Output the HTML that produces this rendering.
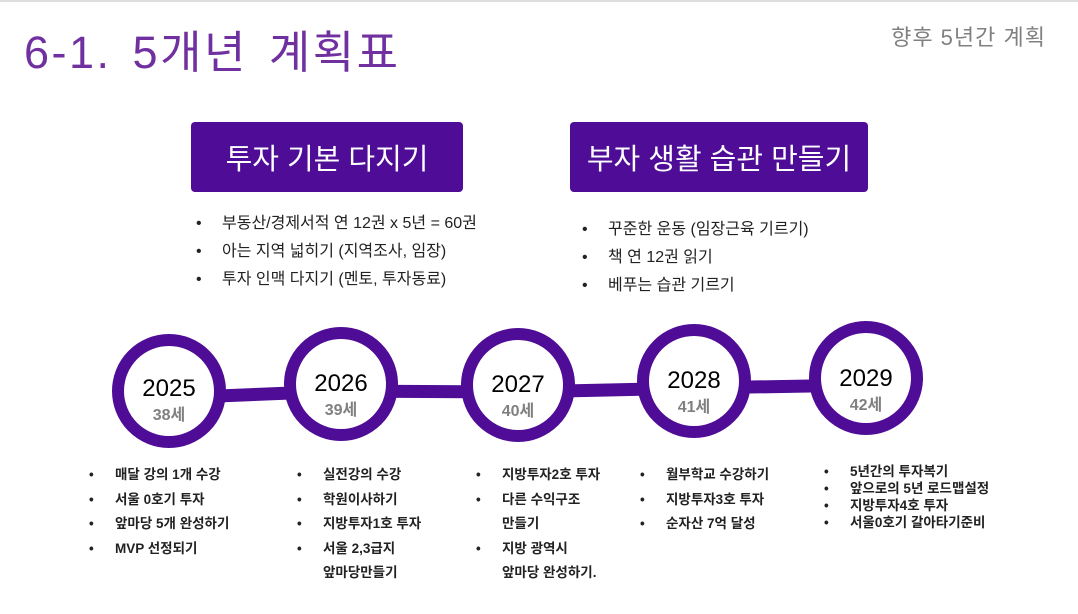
<!DOCTYPE html>
<html><head><meta charset="utf-8"><style>
body{margin:0;width:1078px;height:614px;background:#fff;position:relative;overflow:hidden;font-family:"Liberation Sans","Noto Sans CJK KR",sans-serif}
.a{position:absolute;white-space:nowrap}
.title{left:24px;top:16px;font-size:45px;color:#7030a0;letter-spacing:2.5px;word-spacing:6px}
.sub{right:32px;top:20px;font-size:22px;color:#808080;letter-spacing:1px}
.box{position:absolute;background:#4f0c96;color:#fff;font-size:29px;display:flex;align-items:center;justify-content:center;border-radius:4px}
ul{position:absolute;margin:0;padding:0;list-style:none;font-size:16px;color:#222}
ul li{position:relative;padding-left:26px;line-height:28px}
ul li:before{content:"•";position:absolute;left:0}
.s{font-size:13.5px;font-weight:bold;color:#222}
.s li{line-height:24.5px;padding-left:26px}
.s li.c:before{content:""}
.yr{position:absolute;text-align:center;width:120px}
.yr b{display:block;font-weight:normal;font-size:24px;color:#000}
.yr i{display:block;font-style:normal;font-weight:bold;font-size:16px;color:#808080;margin-top:-2px}
</style></head><body>
<div style="position:absolute;left:0;top:0;width:1078px;height:2px;background:#ddd"></div>
<div class="a title">6-1. 5개년 계획표</div>
<div class="a sub">향후 5년간 계획</div>
<div class="box" style="left:191px;top:122px;width:272px;height:70px">투자 기본 다지기</div>
<div class="box" style="left:570px;top:122px;width:298px;height:70px">부자 생활 습관 만들기</div>
<ul style="left:196px;top:210px"><li>부동산/경제서적 연 12권 x 5년 = 60권</li><li>아는 지역 넓히기 (지역조사, 임장)</li><li>투자 인맥 다지기 (멘토, 투자동료)</li></ul>
<ul style="left:582px;top:216px"><li>꾸준한 운동 (임장근육 기르기)</li><li>책 연 12권 읽기</li><li>베푸는 습관 기르기</li></ul>
<svg style="position:absolute;left:0;top:0" width="1078" height="614">
<path d="M169 398 L341 391 L518 392 L694 388 L866 385" stroke="#4f0c96" fill="none" stroke-width="13"/>
<g fill="#fff" stroke="#4f0c96" stroke-width="12">
<circle cx="169" cy="391" r="51"/><circle cx="341" cy="384" r="51"/><circle cx="518" cy="385" r="51"/><circle cx="694" cy="381" r="51"/><circle cx="866" cy="378" r="51"/>
</g></svg>
<div class="yr" style="left:109px;top:375px"><b>2025</b><i>38세</i></div>
<div class="yr" style="left:281px;top:370px"><b>2026</b><i>39세</i></div>
<div class="yr" style="left:458px;top:371px"><b>2027</b><i>40세</i></div>
<div class="yr" style="left:634px;top:367px"><b>2028</b><i>41세</i></div>
<div class="yr" style="left:806px;top:365px"><b>2029</b><i>42세</i></div>
<ul class="s" style="left:89px;top:463px"><li>매달 강의 1개 수강</li><li>서울 0호기 투자</li><li>앞마당 5개 완성하기</li><li>MVP 선정되기</li></ul>
<ul class="s" style="left:297px;top:463px"><li>실전강의 수강</li><li>학원이사하기</li><li>지방투자1호 투자</li><li>서울 2,3급지</li><li class="c">앞마당만들기</li></ul>
<ul class="s" style="left:476px;top:463px"><li>지방투자2호 투자</li><li>다른 수익구조</li><li class="c">만들기</li><li>지방 광역시</li><li class="c">앞마당 완성하기.</li></ul>
<ul class="s" style="left:640px;top:463px"><li>월부학교 수강하기</li><li>지방투자3호 투자</li><li>순자산 7억 달성</li></ul>
<ul class="s" style="left:824px;top:463px"><li style="line-height:17px">5년간의 투자복기</li><li style="line-height:17px">앞으로의 5년 로드맵설정</li><li style="line-height:17px">지방투자4호 투자</li><li style="line-height:18px">서울0호기 갈아타기준비</li></ul>
</body></html>
